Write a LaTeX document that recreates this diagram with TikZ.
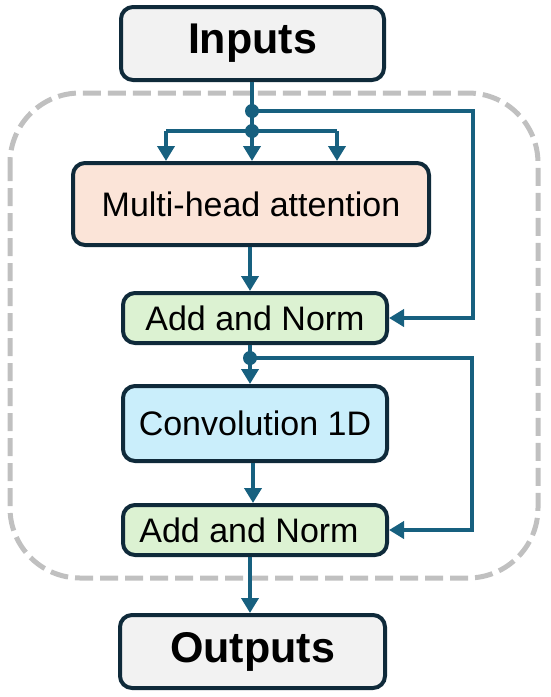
\documentclass[tikz,border=0pt]{standalone}
\usepackage{fontspec}
\setmainfont{Liberation Sans}
\usetikzlibrary{arrows.meta}
\definecolor{arrc}{HTML}{17607F}
\definecolor{bord}{HTML}{0F2A3A}
\definecolor{iofill}{HTML}{F2F2F2}
\definecolor{mhafill}{HTML}{FBE4D8}
\definecolor{anfill}{HTML}{DCF2D2}
\definecolor{convfill}{HTML}{CAEEFB}
\definecolor{dashgray}{HTML}{C0C0C0}
\tikzset{
  blk/.style={draw=bord, line width=4pt, rounded corners=12pt, inner sep=0pt,
    font=\fontsize{34}{40}\selectfont},
  iobox/.style={blk, fill=iofill, font=\fontsize{43}{50}\selectfont\bfseries},
  arr/.style={draw=arrc, line width=3.8pt, -{Triangle[length=15pt,width=17pt]}},
  ln/.style={draw=arrc, line width=3.8pt},
  jdot/.style={fill=arrc},
}
\begin{document}
\begin{tikzpicture}[x=1pt,y=-1pt]
\useasboundingbox (0,0) rectangle (550,697);
\draw[draw=dashgray, line width=5pt, dash pattern=on 18pt off 7pt, rounded corners=70pt] (10,93) rectangle (538,578);

\node[iobox, minimum width=263pt, minimum height=73pt] (in) at (252.5,43.5) {Inputs};
\node[blk, fill=mhafill, minimum width=356pt, minimum height=82pt] (mha) at (251,204) {Multi-head attention};
\node[blk, fill=anfill, minimum width=264pt, minimum height=50pt] (an1) at (255,318) {Add and Norm};
\node[blk, fill=convfill, minimum width=264pt, minimum height=75pt] (conv) at (255,423.5) {Convolution 1D};
\node[blk, fill=anfill, minimum width=264pt, minimum height=50pt] (an2) at (255,530) {Add and Norm\hspace*{12pt}};
\node[iobox, minimum width=265pt, minimum height=73pt] (out) at (252.5,651.5) {Outputs};

\coordinate (j1) at (252,111);
\coordinate (j2) at (252,131);
\coordinate (r1) at (473,111);
\coordinate (l2) at (166,131);
\coordinate (rr2) at (337,131);
\coordinate (j3) at (250,358);
\coordinate (r3) at (472,358);
\coordinate (c4) at (253,0);

% top split
\draw[ln] (in.south -| j1) -- (j2);
\draw[ln] (l2) -- (rr2);
\draw[arr] (j2) -- (j2 |- mha.north);
\draw[arr] (l2) -- (l2 |- mha.north);
\draw[arr] (rr2) -- (rr2 |- mha.north);
\draw[arr] (j1) -- (r1) |- (an1.east);
\fill[jdot] (j1) circle (7pt);
\fill[jdot] (j2) circle (7pt);

\draw[arr] (mha.south -| j3) -- (an1.north -| j3);
\draw[arr] (an1.south -| j3) -- (conv.north -| j3);
\draw[arr] (j3) -- (r3) |- (an2.east);
\fill[jdot] (j3) circle (7pt);
\draw[arr] (conv.south -| c4) -- (an2.north -| c4);
\draw[arr] (an2.south -| j3) -- (out.north -| j3);
\end{tikzpicture}
\end{document}
